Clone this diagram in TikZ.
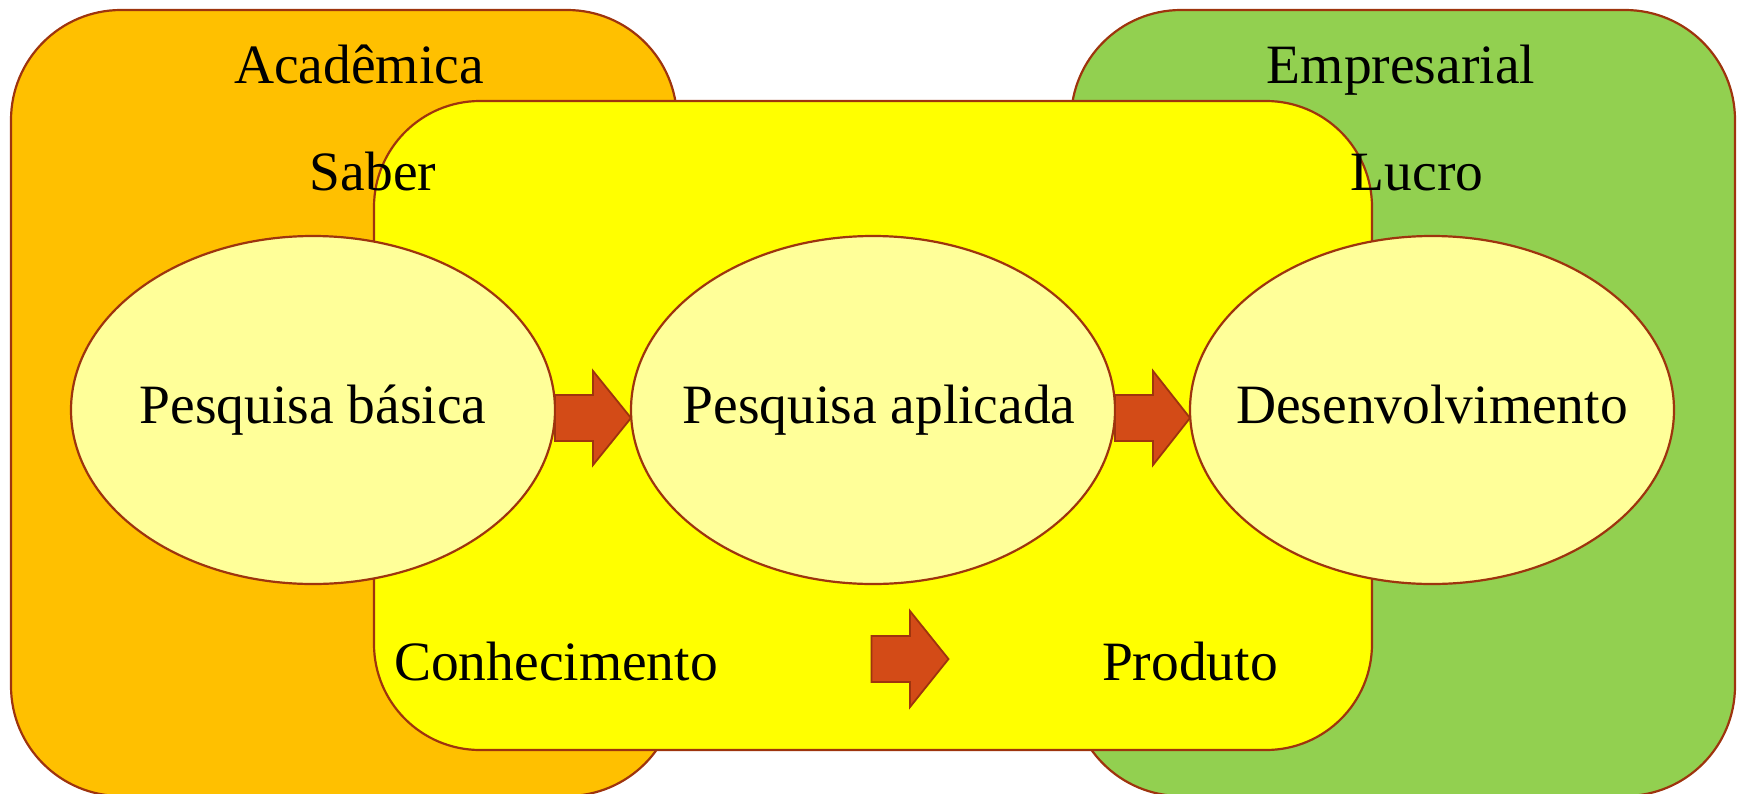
\documentclass[tikz,border=0pt]{standalone}
\usepackage{fontspec}
\setmainfont{Liberation Serif}
\usetikzlibrary{shapes.geometric,calc}
\definecolor{borda}{RGB}{158,52,14}
\definecolor{laranja}{RGB}{255,192,0}
\definecolor{verde}{RGB}{146,208,80}
\definecolor{amarelo}{RGB}{255,255,0}
\definecolor{clarinho}{RGB}{255,255,153}
\definecolor{seta}{RGB}{211,75,23}
\begin{document}
\begin{tikzpicture}[x=1pt,y=-1pt,
  area/.style={draw=borda,line width=2.2pt,rounded corners=#1,inner sep=0pt},
  elip/.style={ellipse,draw=borda,line width=2.2pt,fill=clarinho,minimum width=484pt,minimum height=348pt,inner sep=0pt,outer sep=0pt,text height=38pt,text depth=12pt},
  rotulo/.style={inner sep=0pt,anchor=base},
  blocoseta/.style={draw=borda,line width=1.8pt,fill=seta,line join=miter},
  font=\fontsize{55.5}{60}\selectfont]
\useasboundingbox (0,0) rectangle (1741,793);
\clip (0,0) rectangle (1741,793);
\node[area=110pt,fill=laranja,minimum width=666pt,minimum height=786pt] (acad) at (344,403) {};
\node[area=110pt,fill=verde,minimum width=664pt,minimum height=786pt] (emp) at (1403,403) {};
\node[area=106pt,fill=amarelo,minimum width=998pt,minimum height=649pt] (meio) at (873,425.5) {};
\node[rotulo] (tacad) at (359,83) {Acadêmica};
\node[rotulo] (temp) at (1401,83) {Empresarial};
\node[rotulo] (saber) at (373,190) {Saber};
\node[rotulo] (lucro) at (1417,190) {Lucro};
\node[elip] (pb) at (313,410) {\makebox[0pt]{Pesquisa básica}};
\node[elip] (pa) at (873,410) {\makebox[0pt]{\hspace{12pt}Pesquisa aplicada}};
\node[elip] (dv) at (1432,410) {\makebox[0pt]{Desenvolvimento}};
\node[rotulo] (con) at (556,680) {Conhecimento};
\node[rotulo] (prod) at (1190,680) {Produto};
% block arrows between ellipses
\foreach \a/\b in {pb/pa,pa/dv}{
  \path[blocoseta] ($(\a.east)+(0,-15)$) -- ($(\a.east)+(38,-15)$) -- ($(\a.east)+(38,-39)$)
    -- ($(\b.west)+(0,8)$) -- ($(\a.east)+(38,55)$) -- ($(\a.east)+(38,31)$) -- ($(\a.east)+(0,31)$) -- cycle;
}
% bottom arrow
\coordinate (ms) at ($(con.east)!0.5!(prod.west)+(0,-2)$);
\path[blocoseta] ($(ms)+(-38.5,-23)$) -- ($(ms)+(0,-23)$) -- ($(ms)+(0,-48)$) -- ($(ms)+(38.5,0)$)
  -- ($(ms)+(0,48)$) -- ($(ms)+(0,23)$) -- ($(ms)+(-38.5,23)$) -- cycle;
\end{tikzpicture}
\end{document}
